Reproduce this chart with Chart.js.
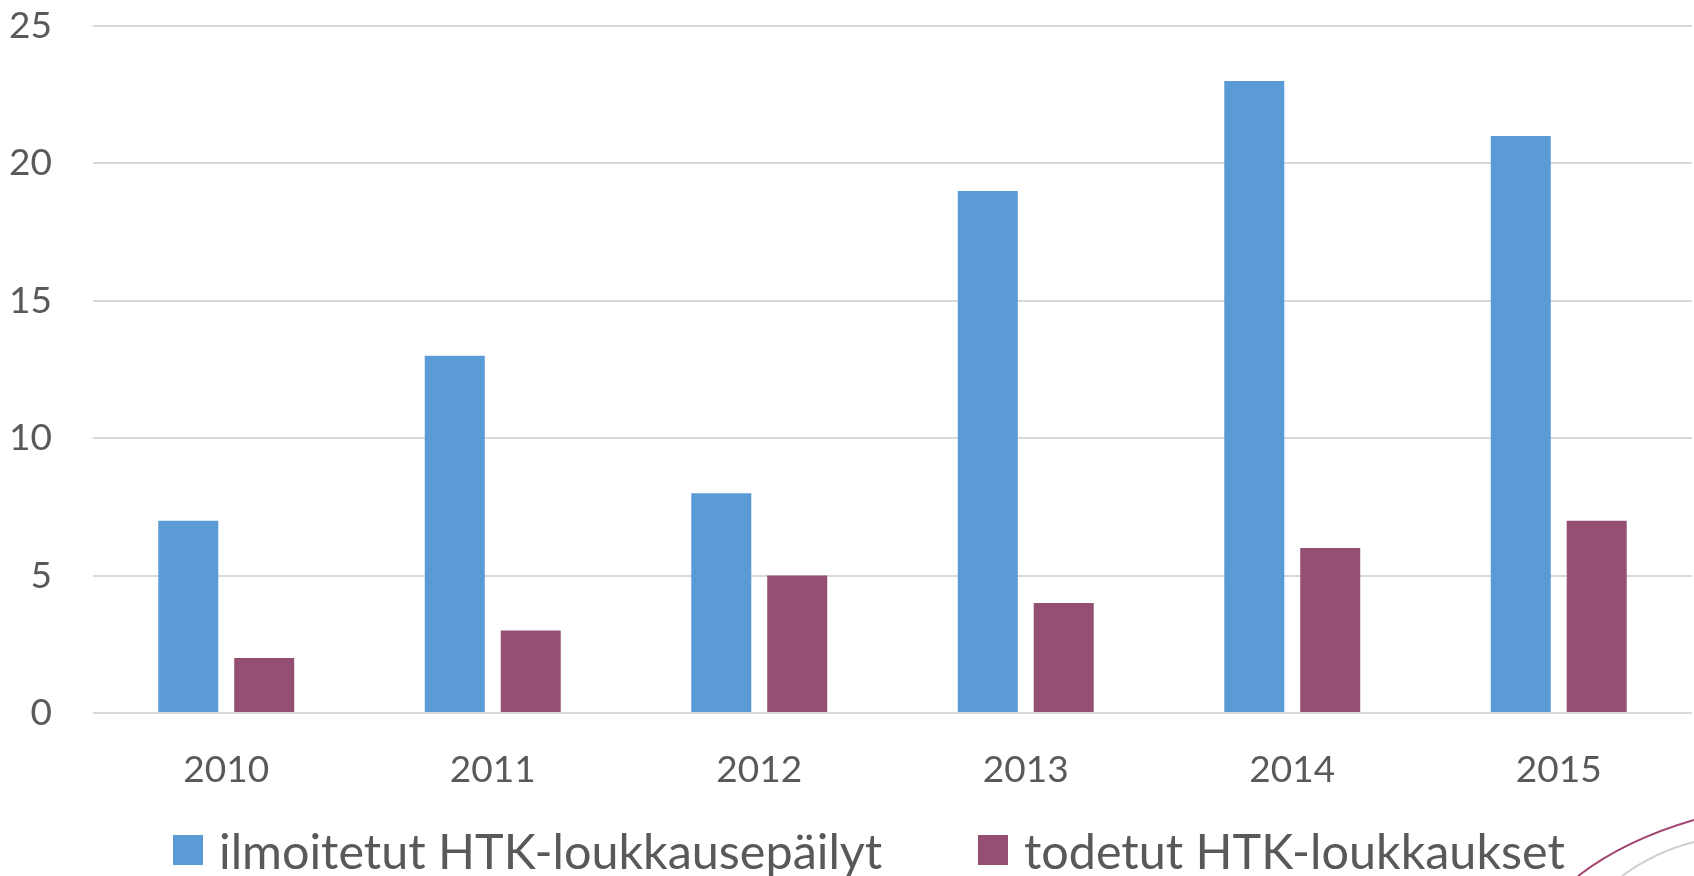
<!DOCTYPE html>
<html>
<head>
<meta charset="utf-8">
<script src="https://cdn.jsdelivr.net/npm/chart.js@4/dist/chart.umd.min.js"></script>
<style>
  html, body { margin: 0; padding: 0; background: #ffffff; }
  #wrap { position: relative; width: 1694px; height: 876px; overflow: hidden; }
  #c { position: absolute; left: 0; top: 0; }
  #legend { position: absolute; left: 0; top: 826px; width: 1694px; height: 48px; font-family: Lato, "Open Sans", sans-serif; font-size: 48.5px; color: #595959; }
  .item { position: absolute; top: 0; height: 48px; display: flex; align-items: center; white-space: nowrap; }
  .box { width: 30px; height: 30px; margin-right: 16px; flex: none; }
</style>
</head>
<body>
<div id="wrap">
  <canvas id="c" width="1694" height="876"></canvas>
  <div id="legend"></div>
</div>
<script>
const categories = ["2010", "2011", "2012", "2013", "2014", "2015"];
const seriesNames = ["ilmoitetut HTK-loukkausepäilyt", "todetut HTK-loukkaukset"];
const reported = [7, 13, 8, 19, 23, 21];
const confirmed = [2, 3, 5, 4, 6, 7];
const yTicks = [0, 5, 10, 15, 20, 25];
const colors = ["#5b9bd5", "#954f72"];
const legendX = [173, 978];

const decoration = {
  id: 'decoration',
  afterDraw(chart) {
    const ctx = chart.ctx;
    ctx.save();
    ctx.lineWidth = 2;
    ctx.strokeStyle = '#a3446f';
    ctx.beginPath();
    ctx.moveTo(1578, 876);
    ctx.quadraticCurveTo(1625, 840, 1694, 820);
    ctx.stroke();
    ctx.strokeStyle = '#cfcfcf';
    ctx.beginPath();
    ctx.moveTo(1622, 876);
    ctx.quadraticCurveTo(1655, 852, 1694, 842);
    ctx.stroke();
    ctx.restore();
  }
};

const tickFont = { family: 'Lato, "Open Sans", sans-serif', size: 37 };
const chart = new Chart(document.getElementById('c'), {
  type: 'bar',
  data: {
    labels: categories,
    datasets: [
      { label: seriesNames[0], data: reported, backgroundColor: colors[0] },
      { label: seriesNames[1], data: confirmed, backgroundColor: colors[1] }
    ]
  },
  plugins: [decoration],
  options: {
    responsive: false,
    animation: false,
    devicePixelRatio: 1,
    categoryPercentage: 0.57,
    barPercentage: 0.79,
    layout: { padding: { left: 10, right: 2, top: 26, bottom: 73 } },
    plugins: { legend: { display: false }, tooltip: { enabled: false } },
    scales: {
      x: {
        grid: { display: false, drawTicks: false },
        border: { display: false },
        ticks: { font: tickFont, color: '#595959', padding: 35 },
        afterFit(s) { s.height = 90; }
      },
      y: {
        min: 0, max: 25,
        afterBuildTicks(s) { s.ticks = yTicks.map(v => ({ value: v })); },
        grid: { color: '#d9d9d9', lineWidth: 2, drawTicks: false },
        border: { display: false },
        ticks: { font: tickFont, color: '#595959', padding: 41 },
        afterFit(s) { s.width = 83; s.paddingTop = 0; s.paddingBottom = 0; }
      }
    }
  }
});

const legend = document.getElementById('legend');
chart.data.datasets.forEach((ds, i) => {
  const it = document.createElement('div');
  it.className = 'item';
  it.style.left = legendX[i] + 'px';
  const b = document.createElement('span');
  b.className = 'box';
  b.style.background = ds.backgroundColor;
  const t = document.createElement('span');
  t.textContent = ds.label;
  it.appendChild(b); it.appendChild(t);
  legend.appendChild(it);
});
</script>
</body>
</html>
